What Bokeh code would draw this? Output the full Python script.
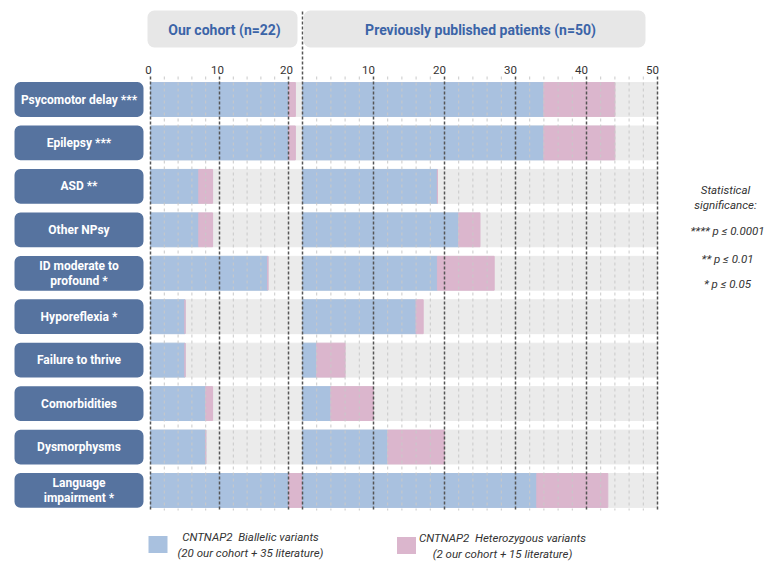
from bokeh.plotting import figure
from bokeh.models import Range1d
from bokeh.embed import file_html
from bokeh.resources import INLINE
from bokeh.core.properties import value

# ---------------- data ----------------
categories = ["Psycomotor delay ***", "Epilepsy ***", "ASD **", "Other NPsy",
              "ID moderate to\nprofound *", "Hyporeflexia *", "Failure to thrive",
              "Comorbidities", "Dysmorphysms", "Language\nimpairment *"]
cohort_biallelic = [20, 20, 7, 7, 17, 5, 5, 8, 8, 20]
cohort_hetero = [1, 1, 2, 2, 0, 0, 0, 1, 0, 2]
lit_biallelic = [34, 34, 19, 22, 19, 16, 2, 4, 12, 33]
lit_hetero = [10, 10, 0, 3, 8, 1, 4, 6, 8, 10]
cohort_n = 22
lit_n = 50
cohort_ticks = [0, 10, 20]
lit_ticks = [10, 20, 30, 40, 50]
cohort_major = [0, 10, 20]
lit_major = [10, 20, 30, 40, 50]
cohort_minor = [2, 4, 6, 8, 12, 14, 16, 18]
lit_minor = [2, 4, 6, 8, 12, 14, 16, 18, 22, 24, 26, 28, 32, 34, 36, 38, 42, 44, 46, 48]
header_left = "Our cohort (n=22)"
header_right = "Previously published patients (n=50)"
legend_bi = "CNTNAP2\u00a0 Biallelic variants\n(20 our cohort + 35 literature)"
legend_het = "CNTNAP2\u00a0 Heterozygous variants\n(2 our cohort + 15 literature)"
signif_title = "Statistical\nsignificance:"
signif_lines = ["**** p \u2264 0.0001", "** p \u2264 0.01", "* p \u2264 0.05"]

# ---------------- colours ----------------
BLUE = "#a9c1df"
PINK = "#dbb6cd"
GRAY = "#ebebeb"
BOX = "#56739f"
HEAD_BG = "#e7e7e7"
HEAD_TX = "#3b64a7"
TXT = "#333333"
FONT = "Roboto"

W, H = 778, 562
LO, HI = 0, W          # screen x of frame
TOP, BOT = 0, H        # screen y of frame


def xr(px0, v0, px1, v1):
    s = (px1 - px0) / (v1 - v0)
    return Range1d(v0 + (LO - px0) / s, v0 + (HI - px0) / s)


ROW0, ROWSTEP = 99.0, 43.44
y_range = Range1d((BOT - ROW0) / ROWSTEP, (TOP - ROW0) / ROWSTEP)

p = figure(width=W, height=H, x_range=xr(302, 0, 657, 50), y_range=y_range,
           output_backend="svg", toolbar_location=None, min_border=0,
           x_axis_location=None, y_axis_location=None)
p.extra_x_ranges = {"left": xr(150, 0, 288, 20), "px": Range1d(LO, HI)}
p.extra_y_ranges = {"py": Range1d(BOT, TOP)}
p.grid.visible = False
p.outline_line_color = None
p.title.visible = False

rows = list(range(len(categories)))
BH = 0.78
cohort_tot = [a + b for a, b in zip(cohort_biallelic, cohort_hetero)]
lit_tot = [a + b for a, b in zip(lit_biallelic, lit_hetero)]

# background bars
p.hbar(y=rows, left=0, right=cohort_n, height=BH, color=GRAY, x_range_name="left")
p.hbar(y=rows, left=0, right=lit_n, height=BH, color=GRAY)
# data bars
p.hbar(y=rows, left=0, right=cohort_biallelic, height=BH, color=BLUE, x_range_name="left")
p.hbar(y=rows, left=cohort_biallelic, right=cohort_tot, height=BH, color=PINK, x_range_name="left")
p.hbar(y=rows, left=0, right=lit_biallelic, height=BH, color=BLUE)
p.hbar(y=rows, left=lit_biallelic, right=lit_tot, height=BH, color=PINK)

# grid lines (drawn over bars)
G0, G1 = 76, 510
p.segment(x0=cohort_minor, x1=cohort_minor, y0=G0, y1=G1, line_color="#c9c9c9",
          line_dash="3 3", line_width=1, x_range_name="left", y_range_name="py")
p.segment(x0=lit_minor, x1=lit_minor, y0=G0, y1=G1, line_color="#c9c9c9",
          line_dash="3 3", line_width=1, y_range_name="py")
p.segment(x0=cohort_major, x1=cohort_major, y0=G0, y1=G1, line_color="#555555",
          line_dash="3 2", line_width=1.5, x_range_name="left", y_range_name="py")
p.segment(x0=lit_major, x1=lit_major, y0=G0, y1=G1, line_color="#555555",
          line_dash="3 2", line_width=1.5, y_range_name="py")
p.segment(x0=[0], x1=[0], y0=[11], y1=[G1], line_color="#555555",
          line_dash="3 2", line_width=1.5, y_range_name="py")

# tick labels
p.text(x=cohort_ticks, y=69, text=[str(t) for t in cohort_ticks], x_offset=-2,
       text_align="center", text_baseline="middle", text_font=value(FONT),
       text_font_size="11.5px", text_color=TXT, x_range_name="left", y_range_name="py")
p.text(x=lit_ticks, y=69, text=[str(t) for t in lit_ticks], x_offset=-5,
       text_align="center", text_baseline="middle", text_font=value(FONT),
       text_font_size="11.5px", text_color=TXT, y_range_name="py")

# category label boxes
p.rect(x=78.5, y=rows, width=129, height=0.8, fill_color=BOX, line_color=None,
       border_radius=6, x_range_name="px")
p.text(x=78.5, y=rows, text=categories, text_align="center", text_baseline="middle",
       text_font=value(FONT), text_font_style="bold", text_font_size="12px",
       text_color="white", text_line_height=1.05, x_range_name="px")

# headers
p.rect(x=[222, 474], y=28.5, width=[150, 342], height=37, fill_color=HEAD_BG,
       line_color=None, border_radius=7, x_range_name="px", y_range_name="py")
p.text(x=[224, 480], y=29, text=[header_left, header_right], text_align="center",
       text_baseline="middle", text_font=value(FONT), text_font_style="bold",
       text_font_size="14px", text_color=HEAD_TX, x_range_name="px", y_range_name="py")

# legend
p.rect(x=[157.5, 406], y=[544, 545], width=19, height=17, fill_color=[BLUE, PINK],
       line_color=None, x_range_name="px", y_range_name="py")
p.text(x=[250, 502], y=[544.5, 545.5], text=[legend_bi, legend_het], text_align="center",
       text_baseline="middle", text_font=value(FONT), text_font_style="italic",
       text_font_size="11.5px", text_color=TXT, text_line_height=1.15,
       x_range_name="px", y_range_name="py")

# significance note
p.text(x=725, y=197, text=[signif_title], text_align="center", text_baseline="middle",
       text_font=value(FONT), text_font_style="italic", text_font_size="11.5px",
       text_color=TXT, text_line_height=1.1, x_range_name="px", y_range_name="py")
p.text(x=[727, 727, 727], y=[230, 258, 283], text=signif_lines, text_align="center",
       text_baseline="middle", text_font=value(FONT), text_font_style="italic",
       text_font_size="11.5px", text_color=TXT, x_range_name="px", y_range_name="py")

open("out.html", "w").write(file_html(p, INLINE))
